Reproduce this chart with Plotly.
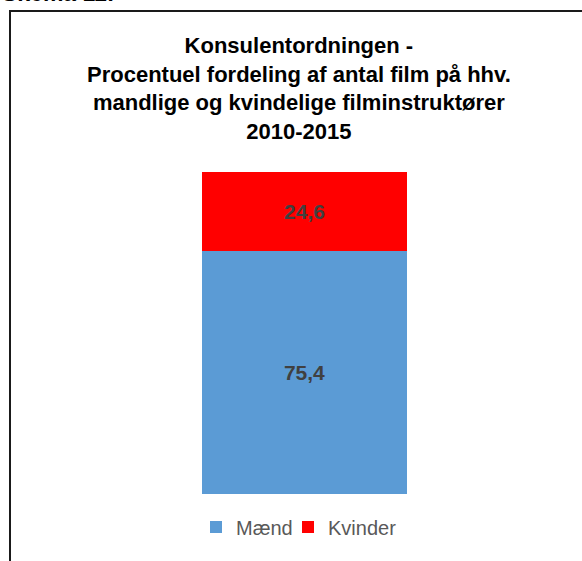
import plotly.graph_objects as go

categories = ["2010-2015"]
series_names = ["Mænd", "Kvinder"]
maend = [75.4]
kvinder = [24.6]
colors = ["#5B9BD5", "#FF0000"]

W, H = 582, 561
ml, mr, mt, mb = 130, 103, 172, 67
pw, ph = W - ml - mr, H - mt - mb

def fmt(vals):
    return [f"{v:.1f}".replace(".", ",") for v in vals]

def px_x(p):
    return (p - ml) / pw

def px_y(p):
    return (H - mb - p) / ph

fig = go.Figure()
for name, vals, col, leg in zip(series_names, [maend, kvinder], colors, ["legend", "legend2"]):
    fig.add_trace(go.Bar(
        x=categories, y=vals, name=name, marker=dict(color=col, line=dict(width=0)),
        text=fmt(vals), textposition="inside", insidetextanchor="middle",
        textfont=dict(family="Arial", size=21, color="#404040", weight="bold"),
        width=205 / pw, hoverinfo="skip", legend=leg,
    ))

fig.add_shape(type="rect", xref="paper", yref="paper",
              x0=px_x(10), x1=px_x(600), y0=px_y(600), y1=px_y(11),
              line=dict(color="#1a1a1a", width=2), fillcolor="rgba(0,0,0,0)", layer="above")

fig.add_annotation(text="<b>Konsulentordningen -<br>Procentuel fordeling af antal film på hhv.<br>mandlige og kvindelige filminstruktører<br>2010-2015</b>",
                   xref="paper", yref="paper", x=px_x(299), y=px_y(89), xanchor="center", yanchor="middle",
                   showarrow=False, align="center",
                   font=dict(family="Arial", size=22, color="#000000"))

fig.add_annotation(text="<b>Skema 11:</b>", xref="paper", yref="paper",
                   x=px_x(0), y=px_y(-7), xanchor="left", yanchor="middle", showarrow=False,
                   font=dict(family="Arial", size=23, color="#000000"))

leg_common = dict(orientation="h", yanchor="middle", xanchor="left", traceorder="normal",
                  font=dict(family="Arial", size=20, color="#595959"),
                  itemwidth=30, itemsizing="constant", bgcolor="rgba(0,0,0,0)")

fig.update_layout(
    width=W, height=H, barmode="stack",
    margin=dict(l=ml, r=mr, t=mt, b=mb, pad=0),
    paper_bgcolor="white", plot_bgcolor="white",
    showlegend=True,
    legend=dict(x=px_x(196), y=px_y(527), **leg_common),
    legend2=dict(x=px_x(288), y=px_y(527), **leg_common),
    xaxis=dict(visible=False, range=[-0.5, 0.5]),
    yaxis=dict(visible=False, range=[0, 100]),
)

fig.write_html("out.html", config={"displayModeBar": False},
               post_script="document.body.style.margin='0';document.body.style.overflow='hidden';")
